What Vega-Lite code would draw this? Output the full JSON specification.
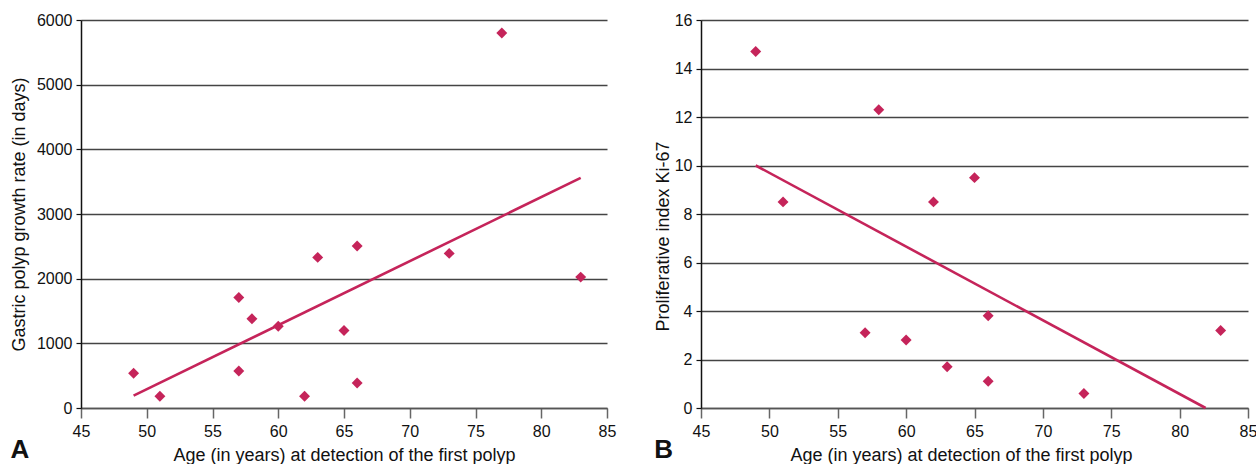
{
  "$schema": "https://vega.github.io/schema/vega-lite/v6.json",
  "padding": {"left": 10, "top": 12, "right": 0, "bottom": 0},
  "spacing": 38,
  "background": "white",
  "config": {
    "view": {"stroke": null},
    "font": "Liberation Sans",
    "axis": {
      "labelFont": "Liberation Sans",
      "labelFontSize": 16,
      "labelColor": "#111",
      "titleFont": "Liberation Sans",
      "titleFontSize": 18,
      "titleFontWeight": "normal",
      "titleColor": "#111",
      "format": "d"
    },
    "axisX": {
      "grid": false,
      "tickSize": 10,
      "tickColor": "#666",
      "tickWidth": 1.5,
      "domainColor": "#555",
      "domainWidth": 1.5,
      "labelPadding": 5,
      "titlePadding": 7,
      "labelFlush": false
    },
    "axisY": {
      "grid": true,
      "gridColor": "#444",
      "gridWidth": 1.5,
      "tickSize": 5,
      "tickColor": "#111",
      "tickWidth": 1.2,
      "domainColor": "#111",
      "domainWidth": 1.5,
      "labelPadding": 4,
      "labelFlush": false
    },
    "title": {
      "font": "Liberation Sans",
      "fontSize": 26,
      "fontWeight": "bold",
      "color": "#111",
      "orient": "bottom",
      "anchor": "start",
      "frame": "bounds",
      "offset": -27
    }
  },
  "datasets": {
    "growth": [
      {"age": 49, "days": 537},
      {"age": 51, "days": 181},
      {"age": 57, "days": 1709},
      {"age": 57, "days": 573},
      {"age": 58, "days": 1379},
      {"age": 60, "days": 1265},
      {"age": 62, "days": 181},
      {"age": 63, "days": 2329},
      {"age": 65, "days": 1198},
      {"age": 66, "days": 2504},
      {"age": 66, "days": 387},
      {"age": 73, "days": 2391},
      {"age": 77, "days": 5799},
      {"age": 83, "days": 2024}
    ],
    "growthFit": [
      {"age": 49, "days": 191},
      {"age": 83, "days": 3558}
    ],
    "ki67": [
      {"age": 49, "ki": 14.7},
      {"age": 51, "ki": 8.5},
      {"age": 57, "ki": 3.1},
      {"age": 58, "ki": 12.3},
      {"age": 60, "ki": 2.8},
      {"age": 62, "ki": 8.5},
      {"age": 63, "ki": 1.7},
      {"age": 65, "ki": 9.5},
      {"age": 66, "ki": 3.8},
      {"age": 66, "ki": 1.1},
      {"age": 73, "ki": 0.6},
      {"age": 83, "ki": 3.2}
    ],
    "kiFit": [
      {"age": 49, "ki": 10},
      {"age": 81.9, "ki": 0}
    ]
  },
  "hconcat": [
    {
      "width": 526,
      "height": 388,
      "title": {"text": "A"},
      "layer": [
        {
          "data": {"name": "growthFit"},
          "mark": {"type": "line", "color": "#C5245A", "strokeWidth": 2.6},
          "encoding": {
            "x": {"field": "age", "type": "quantitative"},
            "y": {"field": "days", "type": "quantitative"}
          }
        },
        {
          "data": {"name": "growth"},
          "mark": {"type": "point", "shape": "diamond", "filled": true, "color": "#C5245A", "opacity": 1, "size": 120},
          "encoding": {
            "x": {
              "field": "age", "type": "quantitative",
              "scale": {"domain": [45, 85], "nice": false, "zero": false},
              "axis": {"values": [45, 50, 55, 60, 65, 70, 75, 80, 85], "title": "Age (in years) at detection of the first polyp"}
            },
            "y": {
              "field": "days", "type": "quantitative",
              "scale": {"domain": [0, 6000], "nice": false},
              "axis": {"values": [0, 1000, 2000, 3000, 4000, 5000, 6000], "title": "Gastric polyp growth rate (in days)", "titlePadding": 8}
            }
          }
        }
      ]
    },
    {
      "width": 547,
      "height": 388,
      "title": {"text": "B"},
      "layer": [
        {
          "data": {"name": "kiFit"},
          "mark": {"type": "line", "color": "#C5245A", "strokeWidth": 2.6},
          "encoding": {
            "x": {"field": "age", "type": "quantitative"},
            "y": {"field": "ki", "type": "quantitative"}
          }
        },
        {
          "data": {"name": "ki67"},
          "mark": {"type": "point", "shape": "diamond", "filled": true, "color": "#C5245A", "opacity": 1, "size": 120},
          "encoding": {
            "x": {
              "field": "age", "type": "quantitative",
              "scale": {"domain": [45, 85], "nice": false, "zero": false},
              "axis": {"values": [45, 50, 55, 60, 65, 70, 75, 80, 85], "title": "Age (in years) at detection of the first polyp", "titleX": 260}
            },
            "y": {
              "field": "ki", "type": "quantitative",
              "scale": {"domain": [0, 16], "nice": false},
              "axis": {"values": [0, 2, 4, 6, 8, 10, 12, 14, 16], "title": "Proliferative index Ki-67", "titlePadding": 2, "titleY": 216}
            }
          }
        }
      ]
    }
  ]
}
